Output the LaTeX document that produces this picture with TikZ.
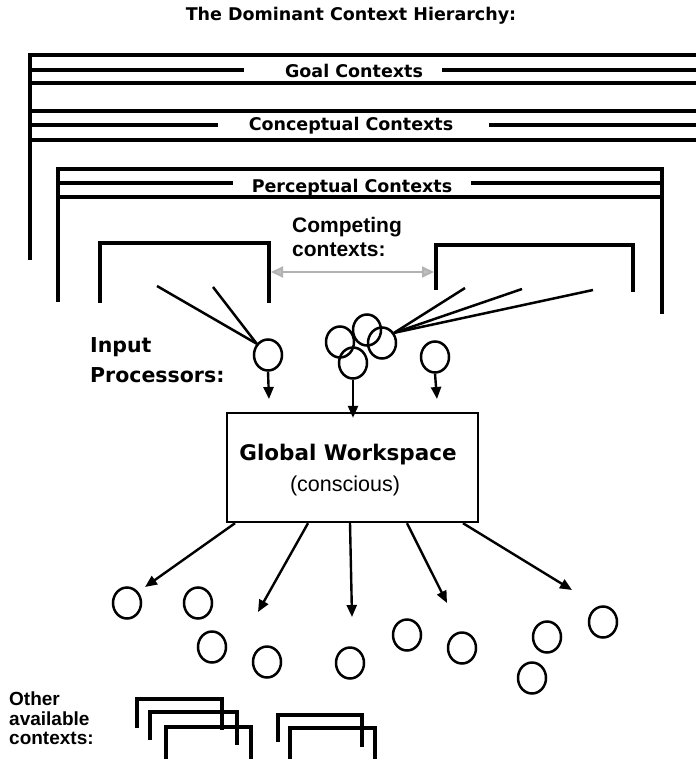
\documentclass[tikz,border=0pt]{standalone}
\usepackage{fontspec}
\newfontfamily\chicfont{DejaVu Sans}
\newfontfamily\helvfont{Liberation Sans}
\usetikzlibrary{arrows.meta,shapes.geometric}

\tikzset{
  ctx/.style={line width=3.2pt, line cap=rect},
  thinctx/.style={line width=3.2pt},
  proc/.style={draw, ellipse, line width=2.5pt, minimum width=28pt, minimum height=31pt, inner sep=0pt},
  feed/.style={line width=2.5pt},
  flow/.style={line width=2.4pt, -{Triangle[length=12pt,width=10pt]}},
  rival/.style={line width=2pt, draw=gray!60, {Triangle[length=12pt,width=11pt,fill=gray!50]}-{Triangle[length=12pt,width=11pt,fill=gray!50]}},
  chic/.style={font=\chicfont\bfseries\fontsize{#1}{#1}\selectfont, inner sep=0pt},
  helvb/.style={font=\helvfont\bfseries\fontsize{#1}{#1}\selectfont, inner sep=0pt},
  helv/.style={font=\helvfont\fontsize{#1}{#1}\selectfont, inner sep=0pt},
}

\begin{document}
\begin{tikzpicture}[x=1pt,y=-1pt]
\useasboundingbox (0,0) rectangle (695,759);

% heading
\node[chic=17.5] (title) at (351,16) {The Dominant Context Hierarchy:};

% dominant hierarchy: goal and conceptual levels
\node[chic=17.5] (goal) at (354,71) {Goal Contexts};
\node[chic=17.5] (concept) at (351,126) {Conceptual Contexts};
\draw[ctx] (30,258) -- (30,55) -- (698,55);
\draw[ctx] (30,70) -- (242,70);
\draw[ctx] (444,70) -- (698,70);
\draw[ctx] (30,83) -- (698,83);
\draw[ctx] (30,111) -- (698,111);
\draw[ctx] (30,125) -- (216,125);
\draw[ctx] (491,125) -- (698,125);
\draw[ctx] (30,140) -- (698,140);

% perceptual level
\node[chic=17.5] (percept) at (352,188) {Perceptual Contexts};
\draw[ctx] (58,300) -- (58,169) -- (662,169) -- (662,312);
\draw[ctx] (58,183) -- (231,183);
\draw[ctx] (473,183) -- (662,183);
\draw[ctx] (58,197) -- (662,197);

% competing contexts
\node[helvb=21, anchor=base west] (comp1) at (292,233) {Competing};
\node[helvb=21, anchor=base west] (comp2) at (292,256) {contexts:};
\draw[ctx] (100,301) -- (100,243) -- (269,243) -- (269,301);
\draw[ctx] (436,288) -- (436,245) -- (633,245) -- (633,290);
\coordinate (lctx) at (271,272);
\coordinate (rctx) at (434,272);
\draw[rival] (lctx) -- (rctx);

% input processors
\node[chic=20.5, anchor=base west] (inp1) at (90,352) {Input};
\node[chic=20.5, anchor=base west] (inp2) at (90,382) {Processors:};
\node[proc] (ip1) at (268,355) {};
\node[proc] (ip3) at (435,357) {};
\node[proc] (c1) at (340,342) {};
\node[proc] (c2) at (367,330) {};
\node[proc] (c3) at (382,343) {};
\node[proc] (c4) at (353,363) {};

% context feeds into the processors
\coordinate (f1) at (157,286);
\coordinate (f2) at (213,287);
\coordinate (f3) at (465,288);
\coordinate (f4) at (522,289);
\coordinate (f5) at (593,290);
\draw[feed] (f1) -- (ip1.135);
\draw[feed] (f2) -- (ip1.135);
\draw[feed] (f3) -- (c3.40);
\draw[feed] (f4) -- (c3.40);
\draw[feed] (f5) -- (c3.40);

% global workspace
\node[draw, line width=2.4pt, minimum width=251pt, minimum height=109pt] (gw) at (352.5,467.5) {};
\node[chic=21.5] (gwt) at (348,455) {Global Workspace};
\node[helv=21.5] (gwc) at (345,486) {(conscious)};

\coordinate (t1) at (269,399);
\coordinate (t3) at (437,399);
\draw[flow] (ip1.south) -- (t1);
\draw[flow] (ip3.south) -- (t3);
\draw[flow] (c4.south) -- ([yshift=-6pt]c4.south |- gw.north);

% broadcast to the receiving processors
\coordinate (b1) at (145,587);
\coordinate (b2) at (258,612);
\coordinate (b3) at (352,617);
\coordinate (b4) at (447,603);
\coordinate (b5) at (572,590);
\draw[flow] ([xshift=-117.5pt]gw.south) -- (b1);
\draw[flow] ([xshift=-44.5pt]gw.south) -- (b2);
\draw[flow] ([xshift=-2.5pt]gw.south) -- (b3);
\draw[flow] ([xshift=54.5pt]gw.south) -- (b4);
\draw[flow] ([xshift=110.5pt]gw.south) -- (b5);

\node[proc] (r1) at (127,603) {};
\node[proc] (r2) at (198,603) {};
\node[proc] (r3) at (212,647) {};
\node[proc] (r4) at (267,662) {};
\node[proc] (r5) at (350,663) {};
\node[proc] (r6) at (407,635) {};
\node[proc] (r7) at (462,648) {};
\node[proc] (r8) at (547,637) {};
\node[proc] (r9) at (603,622) {};
\node[proc] (r10) at (532,678) {};

% other available contexts
\node[font=\helvfont\bfseries\fontsize{19}{19.5}\selectfont, inner sep=0pt, align=left, anchor=north west] (oth) at (9,692) {Other\\available\\contexts:};
\draw[thinctx] (137,728) -- (137,699) -- (222,699) -- (222,730);
\draw[thinctx] (150,740) -- (150,712) -- (237,712) -- (237,745);
\draw[thinctx] (166,762) -- (166,727) -- (251,727) -- (251,762);
\draw[thinctx] (278,742) -- (278,715) -- (362,715) -- (362,747);
\draw[thinctx] (290,762) -- (290,728) -- (375,728) -- (375,762);
\end{tikzpicture}
\end{document}
